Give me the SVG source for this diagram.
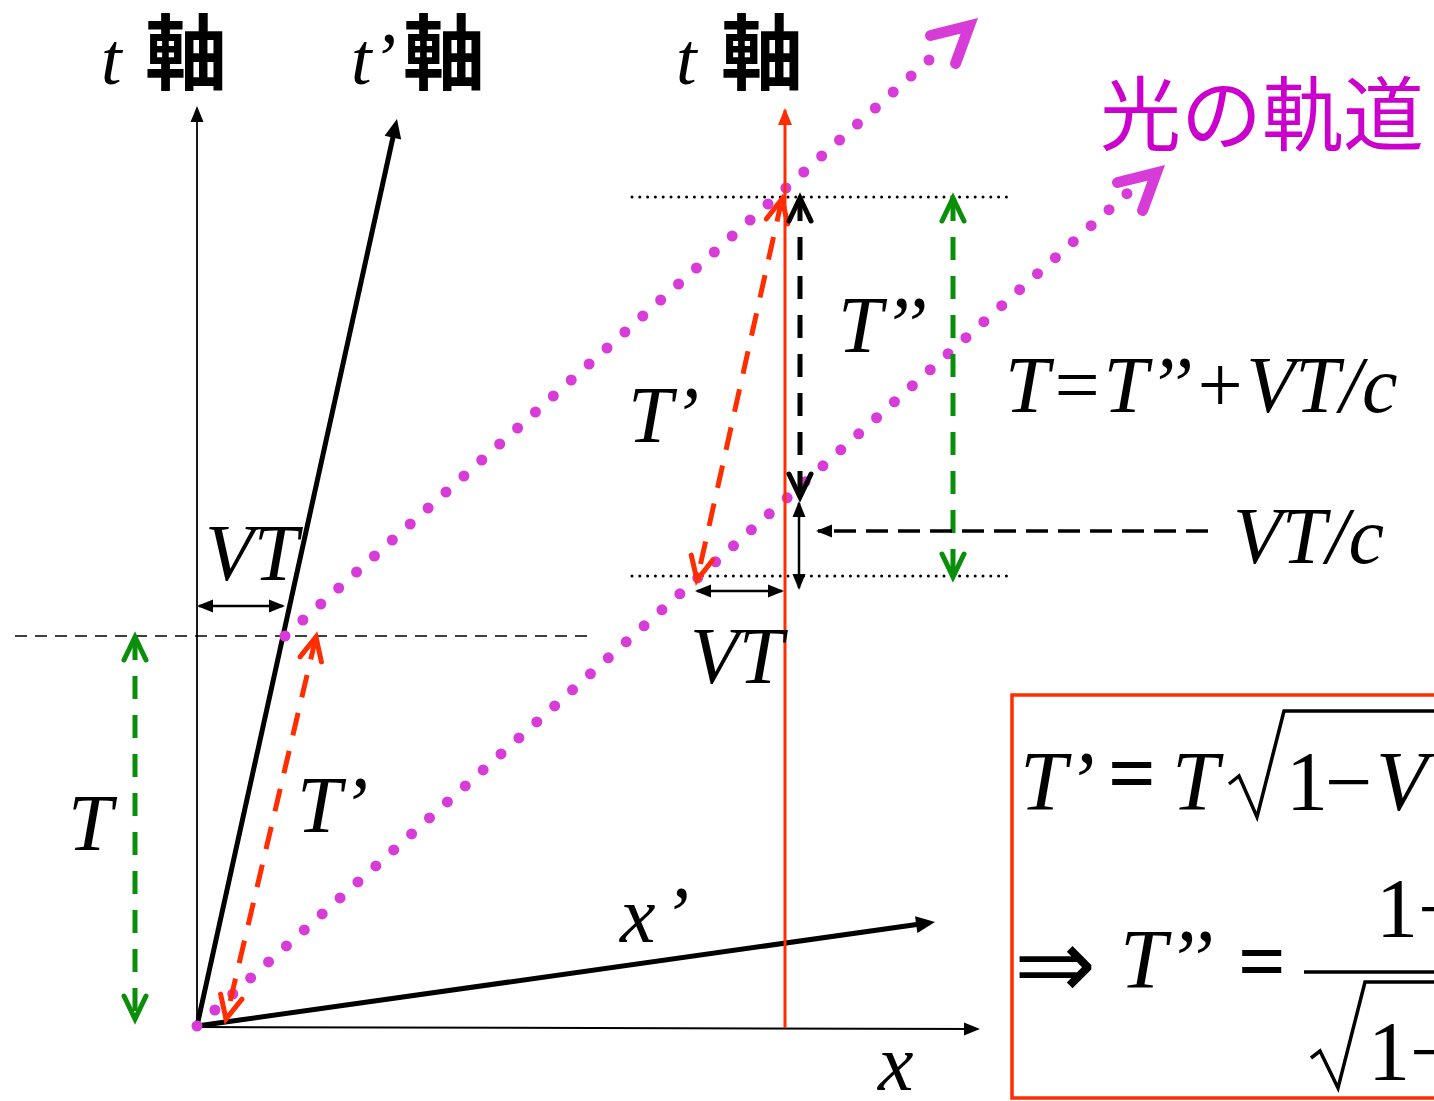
<svg xmlns="http://www.w3.org/2000/svg" width="1434" height="1101" viewBox="0 0 1434 1101">
<style>
.it{font-family:"Liberation Serif","Times New Roman",serif;font-style:italic;font-size:80px;fill:#000}
.rm{font-family:"Liberation Serif","Times New Roman",serif;font-size:84px;fill:#000}
.cjk{font-family:"Noto Sans CJK JP","Noto Sans CJK SC",sans-serif;font-size:82px;font-weight:bold;fill:#000}
.light{fill:none;stroke:#D83CD8;stroke-width:11;stroke-linecap:round;stroke-dasharray:0 24}
.lhead{fill:none;stroke:#D83CD8;stroke-width:11;stroke-linecap:round;stroke-linejoin:miter}
.dotk{fill:none;stroke:#000;stroke-width:3;stroke-linecap:round;stroke-dasharray:0 7.8}
.dg{fill:none;stroke:#0A8F0A;stroke-width:5;stroke-dasharray:23 16}
.dr{fill:none;stroke:#FF2D00;stroke-width:5;stroke-dasharray:23 16}
.dk{fill:none;stroke:#000;stroke-width:5;stroke-dasharray:23 16}
.sol{fill:none;stroke:#000;stroke-width:2.5}
.frm{fill:none;stroke:#000;stroke-width:3.5;stroke-linejoin:miter}
</style>
<defs>
<marker id="triS" viewBox="-20 -10 26 20" markerWidth="26" markerHeight="20" refX="0" refY="0" orient="auto-start-reverse" markerUnits="userSpaceOnUse" overflow="visible"><path d="M2,0 L-14,-6.5 L-14,6.5 z" fill="#000"/></marker>
<marker id="triL" viewBox="-20 -10 26 20" markerWidth="26" markerHeight="20" refX="0" refY="0" orient="auto-start-reverse" markerUnits="userSpaceOnUse" overflow="visible"><path d="M6,0 L-13,-8.5 L-13,8.5 z" fill="#000"/></marker>
<marker id="triR" viewBox="-20 -10 26 20" markerWidth="26" markerHeight="20" refX="0" refY="0" orient="auto-start-reverse" markerUnits="userSpaceOnUse" overflow="visible"><path d="M2,0 L-15,-7 L-15,7 z" fill="#FF2D00"/></marker>
<marker id="chG" viewBox="-30 -15 34 30" markerWidth="34" markerHeight="30" refX="0" refY="0" orient="auto-start-reverse" markerUnits="userSpaceOnUse" overflow="visible"><path d="M-23,-11 L0,0 L-23,11" fill="none" stroke="#0A8F0A" stroke-width="5" stroke-linecap="round"/></marker>
<marker id="chR" viewBox="-30 -15 34 30" markerWidth="34" markerHeight="30" refX="0" refY="0" orient="auto-start-reverse" markerUnits="userSpaceOnUse" overflow="visible"><path d="M-23,-11 L0,0 L-23,11" fill="none" stroke="#FF2D00" stroke-width="5" stroke-linecap="round"/></marker>
<marker id="chK" viewBox="-30 -15 34 30" markerWidth="34" markerHeight="30" refX="0" refY="0" orient="auto-start-reverse" markerUnits="userSpaceOnUse" overflow="visible"><path d="M-23,-11 L0,0 L-23,11" fill="none" stroke="#000" stroke-width="5" stroke-linecap="round"/></marker>
</defs>
<rect width="1434" height="1101" fill="#fff"/>

<g id="axes">
<line x1="197" y1="1027" x2="197" y2="108" stroke="#000" stroke-width="1.8" marker-end="url(#triS)"/>
<line x1="197" y1="1027" x2="978" y2="1029" stroke="#000" stroke-width="2" marker-end="url(#triS)"/>
<line x1="197" y1="1026" x2="395.7" y2="124.9" stroke="#000" stroke-width="5" marker-end="url(#triL)"/>
<line x1="197" y1="1026" x2="929.1" y2="922.8" stroke="#000" stroke-width="5" marker-end="url(#triL)"/>
</g>

<g id="guides">
<line x1="15" y1="636" x2="590" y2="636" stroke="#000" stroke-width="1.5" stroke-dasharray="12 8"/>
<line class="dotk" x1="632" y1="197" x2="1012" y2="197"/>
<line class="dotk" x1="632" y1="576" x2="1012" y2="576"/>
</g>

<g id="light-paths">
<line class="light" x1="285" y1="636" x2="929" y2="60"/>
<polyline class="lhead" points="930.5,35.5 969.3,25.8 955.6,63.4"/>
<line class="light" x1="197" y1="1026" x2="1127" y2="193.6"/>
<polyline class="lhead" points="1117.5,182.5 1156.3,172.8 1142.6,210.4"/>
</g>

<g id="red-axis">
<line x1="785" y1="1028" x2="785" y2="110" stroke="#FF2D00" stroke-width="3" marker-end="url(#triR)"/>
</g>

<g id="connectors">
<line class="dg" x1="135" y1="637" x2="135" y2="1019" marker-start="url(#chG)" marker-end="url(#chG)"/>
<line class="dg" x1="953" y1="198" x2="953" y2="577" marker-start="url(#chG)" marker-end="url(#chG)"/>
<line class="dr" x1="316" y1="637" x2="226" y2="1019" marker-start="url(#chR)" marker-end="url(#chR)"/>
<line class="dr" x1="782" y1="199" x2="697" y2="580" marker-start="url(#chR)" marker-end="url(#chR)"/>
<line class="dk" x1="800" y1="198" x2="800" y2="497" marker-start="url(#chK)" marker-end="url(#chK)"/>
<line class="sol" x1="199" y1="606" x2="283" y2="606" marker-start="url(#triS)" marker-end="url(#triS)"/>
<line class="sol" x1="697" y1="591" x2="782" y2="591" marker-start="url(#triS)" marker-end="url(#triS)"/>
<line class="sol" x1="799" y1="503" x2="799" y2="588" marker-start="url(#triS)" marker-end="url(#triS)"/>
<line x1="1208" y1="531" x2="818" y2="531" stroke="#000" stroke-width="3.5" stroke-dasharray="22 10" marker-end="url(#triS)"/>
</g>

<g id="axis-labels">
<text class="it" x="101" y="84" style="font-size:74px">t</text>
<text class="cjk" x="145" y="83">軸</text>
<text class="it" x="351" y="84" style="font-size:74px">t’</text>
<text class="cjk" x="403" y="83">軸</text>
<text class="it" x="676" y="84" style="font-size:74px">t</text>
<text class="cjk" x="721" y="83">軸</text>
<text x="1100" y="144" style="font-family:'Noto Sans CJK JP','Noto Sans CJK SC',sans-serif;font-size:81px;fill:#CC00CC">光の軌道</text>
<text class="it" x="620" y="942">x<tspan dx="7">’</tspan></text>
<text class="it" x="878" y="1090">x</text>
</g>

<g id="quantity-labels">
<text class="it" x="205" y="580">VT</text>
<text class="it" x="690" y="683">VT</text>
<text class="it" x="68" y="850">T</text>
<text class="it" x="297" y="832">T’</text>
<text class="it" x="628" y="442">T’</text>
<text class="it" x="838" y="352">T’’</text>
<text class="it" x="1005" y="412">T=T’’+VT/c</text>
<text class="it" x="1233" y="563">VT/c</text>
</g>

<g id="formula-box">
<rect x="1012" y="695" width="440" height="403" fill="none" stroke="#FF2D00" stroke-width="3.5"/>
<text class="rm" x="1020" y="810" style="font-style:italic">T’</text>
<text class="rm" x="1108" y="802" style="font-weight:bold">=</text>
<text class="rm" x="1172" y="810" style="font-style:italic">T</text>
<path class="frm" d="M1229,784 L1239,776 L1257,817 L1284,711 L1440,711"/>
<text class="rm" x="1286" y="810">1</text>
<text class="rm" x="1325" y="810">−</text>
<text class="rm" x="1376" y="810" style="font-style:italic">V</text>
<text class="rm" x="1014" y="998" style="font-family:'DejaVu Sans',sans-serif;font-size:98px">⇒</text>
<text class="rm" x="1120" y="988" style="font-style:italic">T’’</text>
<text class="rm" x="1238" y="990" style="font-weight:bold">=</text>
<path class="frm" d="M1304,972 L1440,972"/>
<text class="rm" x="1376" y="937">1</text>
<text class="rm" x="1418" y="937">−</text>
<path class="frm" d="M1311,1058 L1320,1051 L1338,1088 L1365,982 L1440,982"/>
<text class="rm" x="1368" y="1080">1</text>
<text class="rm" x="1410" y="1080">−</text>
</g>
</svg>
